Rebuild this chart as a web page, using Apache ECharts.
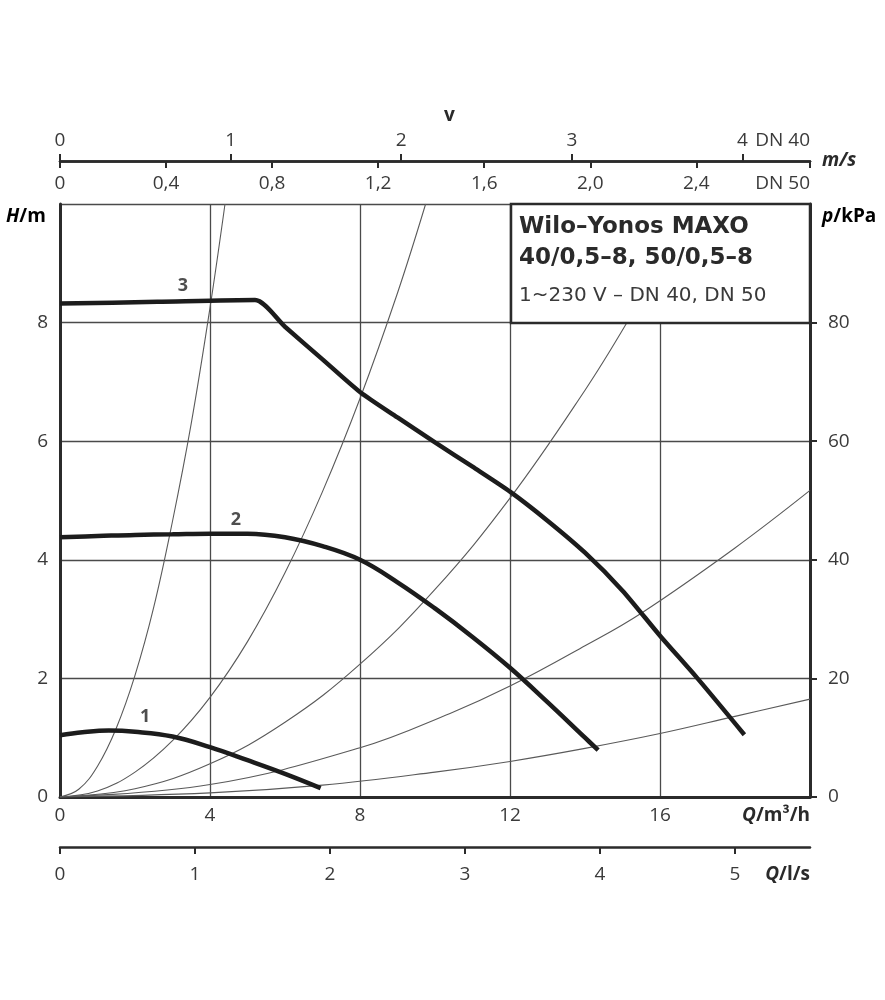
<!DOCTYPE html>
<html lang="de">
<head>
    <meta charset="UTF-8">
    <title>Wilo-Yonos MAXO 40/0,5-8, 50/0,5-8</title>
    <script src="https://cdn.jsdelivr.net/npm/echarts@6/dist/echarts.min.js"></script>
    <style>
        html, body { margin: 0; padding: 0; background: #fff; }
        #main { width: 885px; height: 1000px; }
    </style>
</head>
<body>
<div id="main"></div>
<script>
    // Kennlinien H(Q), Q in m³/h, H in m
    const pump1 = [[0, 1.04], [0.6, 1.09], [1.3, 1.12], [2, 1.1], [3, 1.02], [4, 0.84], [5, 0.62], [6, 0.39], [6.95, 0.15]];
    const pump2 = [[0, 4.38], [1, 4.4], [2, 4.42], [3, 4.43], [4, 4.44], [5, 4.44], [6, 4.38], [7, 4.23], [8, 4.0], [9, 3.62], [10, 3.18], [11, 2.7], [12, 2.18], [13, 1.6], [14, 1.0], [14.35, 0.79]];
    const pump3 = [[0, 8.32], [2.6, 8.35], [5.2, 8.38], [6, 7.93], [7, 7.38], [8, 6.83], [9, 6.4], [10, 5.98], [11, 5.57], [12, 5.15], [13, 4.66], [14, 4.12], [15, 3.48], [16, 2.72], [17, 2.0], [18.25, 1.05]];

    // Anlagenkennlinien (dünne Linien)
    const sys1 = [[0, 0], [0.5, 0.13], [1, 0.52], [1.5, 1.16], [2, 2.05], [2.5, 3.2], [3, 4.65], [3.5, 6.3], [4, 8.25], [4.4, 10]];
    const sys2 = [[0, 0], [1, 0.1], [2, 0.42], [3, 0.95], [4, 1.68], [5, 2.62], [6, 3.78], [7, 5.15], [8, 6.72], [9, 8.5], [9.75, 10]];
    const sys3 = [[0, 0], [2, 0.14], [4, 0.56], [6, 1.26], [8, 2.24], [10, 3.5], [12, 5.04], [14, 6.86], [15.1, 7.98]];
    const sys4 = [[0, 0], [4, 0.21], [8, 0.83], [10.4, 1.41], [12, 1.87], [14, 2.55], [15.5, 3.1], [18, 4.2], [20, 5.17]];
    const sys5 = [[0, 0], [4, 0.07], [7, 0.2], [10, 0.42], [12, 0.6], [14, 0.82], [16, 1.07], [18, 1.36], [20, 1.65]];

    const curveNames = ['1', '2', '3'];
    const curveLabelPos = [[2.27, 1.35], [4.69, 4.68], [3.28, 8.62]];

    // Achsen
    const qMax = 20;
    const hTicks = [0, 2, 4, 6, 8];
    const pTicks = [0, 20, 40, 60, 80];
    const qTicks = [0, 4, 8, 12, 16];
    const vDN40Ticks = [0, 1, 2, 3, 4];
    const vDN50Ticks = [0, 0.4, 0.8, 1.2, 1.6, 2.0, 2.4];
    const lsTicks = [0, 1, 2, 3, 4, 5];
    const dn40Factor = 4.55;   // m³/h je m/s
    const dn50Factor = 7.07;
    const lsFactor = 3.6;      // m³/h je l/s

    const FONT = '"Open Sans", "Noto Sans", sans-serif';
    const BOXFONT = '"DejaVu Sans", "Noto Sans", sans-serif';
    const TXT = '#3a3a3a';
    const LINE = '#2b2b2b';

    const unitRich = {
        i: { fontFamily: FONT, fontSize: 19, fontWeight: 'bold', fontStyle: 'italic', color: '#2a2a2a' },
        b: { fontFamily: FONT, fontSize: 19, fontWeight: 'bold', color: '#2a2a2a' }
    };

    function comma(v) {
        return v === 0 ? '0' : v.toFixed(1).replace('.', ',');
    }

    let chart = echarts.init(document.getElementById('main'), null, { renderer: 'canvas' });

    let labelStyle = { fontFamily: FONT, fontSize: 19, color: TXT };

    let option = {
        backgroundColor: '#fff',
        animation: false,
        grid: [
            { left: 60, top: 204, width: 750, height: 593 },
            { left: 60, top: 161, width: 750, height: 0 },
            { left: 60, top: 847, width: 750, height: 0 }
        ],
        xAxis: [
            {
                type: 'value', gridIndex: 0, min: 0, max: qMax, interval: 4,
                axisLine: { show: true, onZero: false, lineStyle: { color: LINE, width: 3 } },
                axisTick: { show: false },
                axisLabel: Object.assign({}, labelStyle, {
                    margin: 9,
                    customValues: qTicks.concat([qMax]),
                    alignMaxLabel: 'right',
                    formatter: function (v) { return v === qMax ? '{i|Q}{b|/m³/h}' : String(v); },
                    rich: unitRich
                }),
                splitLine: { show: true, lineStyle: { color: '#4a4a4a', width: 1.3 } }
            },
            {
                type: 'value', gridIndex: 1, position: 'top', min: 0, max: qMax / dn40Factor,
                axisLine: { show: true, onZero: false, lineStyle: { color: LINE, width: 2.5 } },
                axisTick: { show: true, length: 7, customValues: vDN40Ticks, lineStyle: { color: LINE, width: 2 } },
                axisLabel: Object.assign({}, labelStyle, {
                    margin: 11,
                    customValues: vDN40Ticks.concat([qMax / dn40Factor]),
                    alignMaxLabel: 'right',
                    formatter: function (v) { return v > 4.2 ? 'DN 40' : String(v); }
                }),
                splitLine: { show: false }
            },
            {
                type: 'value', gridIndex: 1, position: 'bottom', min: 0, max: qMax / dn50Factor,
                name: '{i|m/s}', nameLocation: 'end', nameGap: 12,
                nameTextStyle: { rich: unitRich },
                axisLine: { show: true, onZero: false, lineStyle: { color: LINE, width: 2.5 } },
                axisTick: { show: true, length: 7, customValues: vDN50Ticks.concat([qMax / dn50Factor]), lineStyle: { color: LINE, width: 2 } },
                axisLabel: Object.assign({}, labelStyle, {
                    margin: 13,
                    customValues: vDN50Ticks.concat([qMax / dn50Factor]),
                    alignMaxLabel: 'right',
                    formatter: function (v) { return v > 2.6 ? 'DN 50' : comma(v); }
                }),
                splitLine: { show: false }
            },
            {
                type: 'value', gridIndex: 2, position: 'bottom', min: 0, max: qMax / lsFactor,
                axisLine: { show: true, onZero: false, lineStyle: { color: LINE, width: 2.5 } },
                axisTick: { show: true, length: 7, customValues: lsTicks, lineStyle: { color: LINE, width: 2 } },
                axisLabel: Object.assign({}, labelStyle, {
                    margin: 18,
                    customValues: lsTicks.concat([qMax / lsFactor]),
                    alignMaxLabel: 'right',
                    formatter: function (v) { return v > 5.2 ? '{i|Q}{b|/l/s}' : String(v); },
                    rich: unitRich
                }),
                splitLine: { show: false }
            }
        ],
        yAxis: [
            {
                type: 'value', gridIndex: 0, position: 'left', min: 0, max: 10, interval: 2,
                axisLine: { show: true, onZero: false, lineStyle: { color: LINE, width: 3 } },
                axisTick: { show: false },
                axisLabel: Object.assign({}, labelStyle, { margin: 12, customValues: hTicks }),
                splitLine: { show: true, lineStyle: { color: '#4a4a4a', width: 1.3 } }
            },
            {
                type: 'value', gridIndex: 0, position: 'right', min: 0, max: 100, interval: 20,
                axisLine: { show: true, onZero: false, lineStyle: { color: LINE, width: 3 } },
                axisTick: { show: true, length: 7, customValues: pTicks, lineStyle: { color: LINE, width: 2 } },
                axisLabel: Object.assign({}, labelStyle, { margin: 18, customValues: pTicks }),
                splitLine: { show: false }
            },
            { type: 'value', gridIndex: 1, min: 0, max: 1, show: false },
            { type: 'value', gridIndex: 2, min: 0, max: 1, show: false }
        ],
        graphic: [
            {
                type: 'rect', z: 100,
                shape: { x: 511, y: 204, width: 299, height: 119 },
                style: { fill: '#fff', stroke: LINE, lineWidth: 2.5 }
            },
            {
                type: 'text', z: 101, x: 519, y: 227,
                style: { text: 'Wilo–Yonos MAXO', font: 'bold 23px ' + BOXFONT, fill: '#2a2a2a', align: 'left', verticalAlign: 'middle' }
            },
            {
                type: 'text', z: 101, x: 519, y: 258,
                style: { text: '40/0,5–8, 50/0,5–8', font: 'bold 23px ' + BOXFONT, fill: '#2a2a2a', align: 'left', verticalAlign: 'middle' }
            },
            {
                type: 'text', z: 101, x: 519, y: 296,
                style: { text: '1~230 V – DN 40, DN 50', font: '20px ' + BOXFONT, fill: '#3a3a3a', align: 'left', verticalAlign: 'middle' }
            },
            {
                type: 'text', left: 6, top: 207,
                style: { rich: unitRich, text: '{i|H}{b|/m}' }
            },
            {
                type: 'text', left: 822, top: 207,
                style: { rich: unitRich, text: '{i|p}{b|/kPa}' }
            },
            {
                type: 'text', left: 444, top: 106,
                style: { text: 'v', font: 'bold 19px ' + FONT, fill: '#2a2a2a' }
            }
        ],
        series: [sys1, sys2, sys3, sys4, sys5].map(function (d) {
            return {
                type: 'line', xAxisIndex: 0, yAxisIndex: 0, data: d,
                smooth: 0.4, showSymbol: false, silent: true, z: 2,
                lineStyle: { color: '#5a5a5a', width: 1.1 }
            };
        }).concat([
            { data: pump1, smooth: 0.4 },
            { data: pump2, smooth: 0.4 },
            { data: pump3, smooth: 0.25 }
        ].map(function (s) {
            return {
                type: 'line', xAxisIndex: 0, yAxisIndex: 0, data: s.data,
                smooth: s.smooth, showSymbol: false, silent: true, z: 5,
                lineStyle: { color: '#1c1c1c', width: 4.5 }
            };
        })).concat([{
            type: 'scatter', xAxisIndex: 0, yAxisIndex: 0, symbolSize: 0, z: 6,
            data: curveNames.map(function (n, i) { return { name: n, value: curveLabelPos[i] }; }),
            label: {
                show: true, position: 'inside', formatter: '{b}',
                fontFamily: FONT, fontSize: 18, fontWeight: 'bold', color: '#222'
            }
        }])
    };

    chart.setOption(option);
</script>
</body>
</html>
